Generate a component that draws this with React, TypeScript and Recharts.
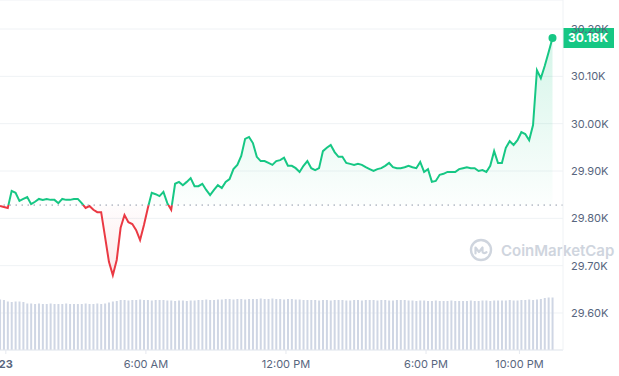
import React from 'react';
import {
  ComposedChart,
  Area,
  Bar,
  XAxis,
  YAxis,
  CartesianGrid,
  ReferenceLine,
  ReferenceDot,
} from 'recharts';

// 10 minute candles, first one at 23:45 of the previous day
const startMinute = -15;
const stepMinutes = 10;

// BTC price in thousands of USD
const prices = [
  29.826, 29.824, 29.822, 29.858, 29.854, 29.837, 29.841, 29.845, 29.83, 29.835,
  29.841, 29.839, 29.841, 29.839, 29.839, 29.832, 29.841, 29.839, 29.839, 29.841,
  29.841, 29.832, 29.822, 29.826, 29.818, 29.813, 29.813, 29.761, 29.708, 29.68,
  29.712, 29.78, 29.807, 29.792, 29.788, 29.775, 29.754, 29.786, 29.822, 29.854,
  29.851, 29.847, 29.856, 29.832, 29.818, 29.873, 29.877, 29.87, 29.877, 29.885,
  29.868, 29.868, 29.873, 29.86, 29.849, 29.86, 29.87, 29.864, 29.877, 29.883,
  29.904, 29.913, 29.932, 29.968, 29.972, 29.959, 29.93, 29.921, 29.921, 29.917,
  29.913, 29.921, 29.923, 29.928, 29.911, 29.911, 29.906, 29.898, 29.911, 29.921,
  29.906, 29.902, 29.906, 29.942, 29.949, 29.955, 29.94, 29.93, 29.93, 29.917,
  29.915, 29.913, 29.915, 29.913, 29.908, 29.904, 29.9, 29.904, 29.906, 29.911,
  29.917, 29.908, 29.906, 29.906, 29.908, 29.911, 29.908, 29.906, 29.919, 29.898,
  29.904, 29.877, 29.879, 29.892, 29.894, 29.898, 29.898, 29.898, 29.904, 29.906,
  29.908, 29.906, 29.906, 29.9, 29.902, 29.898, 29.911, 29.942, 29.917, 29.917,
  29.949, 29.963, 29.955, 29.965, 29.982, 29.978, 29.965, 29.997, 30.113, 30.096,
  30.122, 30.151, 30.181,
];

// volume per candle (M USD)
const volumes = [
  101, 100,
  97, 96, 97, 97, 96,
  93, 93, 92, 93, 92, 92, 93, 92, 92, 92, 93, 92, 92, 92, 92, 93, 92, 92, 93, 92, 93,
  95, 97, 98,
  100, 100, 99, 100, 100, 101, 100, 100, 99, 100,
  100, 100, 99, 99, 98, 99, 99, 98, 99, 99,
  100, 100, 101, 100, 100, 101, 101, 102, 102, 101,
  102, 102, 101, 102, 102,
  102, 103, 102, 102, 103, 102, 102, 101, 102, 102, 101, 101, 100, 100,
  100, 100, 99, 100, 100, 99, 100, 100, 100, 99,
  99, 100, 100, 99, 100, 100, 100, 99, 100, 100,
  99, 99, 100, 100, 100, 99, 99, 98, 99, 99,
  98, 98, 99, 98, 98, 98, 99, 98, 98, 98,
  98, 99, 98, 98, 99, 99, 98, 99, 99, 99,
  99, 100, 99, 99, 100, 100, 101, 100, 101, 102,
  104, 105, 105,
];

const timeTicks = [0, 360, 720, 1080, 1320];
const timeLabels = ['23', '6:00 AM', '12:00 PM', '6:00 PM', '10:00 PM'];
const priceTicks = [29.6, 29.7, 29.8, 29.9, 30.0, 30.1, 30.2];
const openPrice = 29.828;

const GREEN = '#16c784';
const RED = '#ea3943';

const data = prices.map((price, i) => ({
  t: startMinute + i * stepMinutes,
  price,
  vol: volumes[i],
}));

const last = data[data.length - 1];
const maxPrice = Math.max(...prices);
const minPrice = Math.min(...prices);
const split = (maxPrice - openPrice) / (maxPrice - minPrice);

const TimeTick = (props: any) => {
  const { x, y, payload } = props;
  const idx = timeTicks.indexOf(payload.value);
  const isDate = idx === 0;
  return (
    <text
      x={x}
      y={y}
      dy="0.71em"
      textAnchor="middle"
      fill="#58667e"
      fontSize={11}
      fontWeight={isDate ? 700 : 400}
    >
      {timeLabels[idx]}
    </text>
  );
};

const PriceTag = (props: any) => {
  const vb = props.viewBox || {};
  const x = vb.x + vb.width;
  const y = vb.y;
  return (
    <g>
      <rect x={x} y={y - 10} width={51} height={20} fill={GREEN} />
      <text x={x + 25} y={y} dy="0.36em" textAnchor="middle" fill="#fff" fontSize={12} fontWeight={700}>
        {`${last.price.toFixed(2)}K`}
      </text>
    </g>
  );
};

function Watermark() {
  return (
    <div
      style={{
        position: 'absolute',
        left: 469,
        top: 238,
        display: 'flex',
        alignItems: 'center',
        gap: 8,
        color: '#cfd5de',
        fontSize: 15,
        fontWeight: 600,
        pointerEvents: 'none',
      }}
    >
      <svg width={24} height={24} viewBox="0 0 24 24">
        <circle cx={12} cy={12} r={10} fill="none" stroke="#cfd5de" strokeWidth={2.4} />
        <path
          d="M6.5 15.5 V9.5 L10 14 L13.5 9.5 V13.5 C13.5 15.2 15.2 15.6 17.5 14.2"
          fill="none"
          stroke="#cfd5de"
          strokeWidth={2.2}
          strokeLinejoin="round"
          strokeLinecap="round"
        />
      </svg>
      <span>CoinMarketCap</span>
    </div>
  );
}

export default function App() {
  return (
    <div
      style={{
        position: 'absolute',
        left: 0,
        top: 0,
        width: 619,
        height: 376,
        background: '#fff',
        fontFamily: 'Inter, "Noto Sans", sans-serif',
      }}
    >
      <Watermark />
      <div style={{ position: 'absolute', left: 0, top: 0 }}>
        <ComposedChart width={619} height={376} data={data} margin={{ top: 0, right: 0, bottom: 0, left: 0 }}>
          <defs>
            <linearGradient id="priceStroke" x1="0" y1="0" x2="0" y2="1">
              <stop offset={split} stopColor={GREEN} />
              <stop offset={split} stopColor={RED} />
            </linearGradient>
            <linearGradient id="priceFill" x1="0" y1="0" x2="0" y2="1">
              <stop offset={0} stopColor={GREEN} stopOpacity={0.3} />
              <stop offset={split} stopColor={GREEN} stopOpacity={0.02} />
              <stop offset={split} stopColor={RED} stopOpacity={0.02} />
              <stop offset={1} stopColor={RED} stopOpacity={0.18} />
            </linearGradient>
          </defs>
          <CartesianGrid vertical={false} stroke="#eff2f5" />
          <XAxis
            dataKey="t"
            type="number"
            domain={[-15, 1432]}
            allowDataOverflow
            ticks={timeTicks}
            interval={0}
            tick={<TimeTick />}
            tickSize={4}
            tickMargin={6}
            height={26}
            axisLine={{ stroke: '#e6e9ef' }}
            tickLine={{ stroke: '#e6e9ef' }}
          />
          <YAxis
            orientation="right"
            domain={[29.5218, 30.2613]}
            allowDataOverflow
            ticks={priceTicks}
            interval={0}
            tickFormatter={(v: number) => `${v.toFixed(2)}K`}
            tick={{ fill: '#58667e', fontSize: 11 }}
            tickLine={false}
            axisLine={{ stroke: '#eff2f5' }}
            width={56}
          />
          <YAxis yAxisId="vol" hide domain={[0, 700]} />
          <Bar dataKey="vol" yAxisId="vol" fill="#cfd6e4" barSize={2} isAnimationActive={false} />
          <ReferenceLine y={openPrice} stroke="#8e97a8" strokeDasharray="1.5 4.5" />
          <Area
            type="linear"
            dataKey="price"
            baseValue={openPrice}
            stroke="url(#priceStroke)"
            strokeWidth={2}
            fill="url(#priceFill)"
            dot={false}
            activeDot={false}
            isAnimationActive={false}
          />
          <ReferenceDot x={last.t} y={last.price} r={4} fill={GREEN} stroke="none" />
          <ReferenceLine y={last.price} stroke="none" label={(p: any) => <PriceTag {...p} />} />
        </ComposedChart>
      </div>
    </div>
  );
}
